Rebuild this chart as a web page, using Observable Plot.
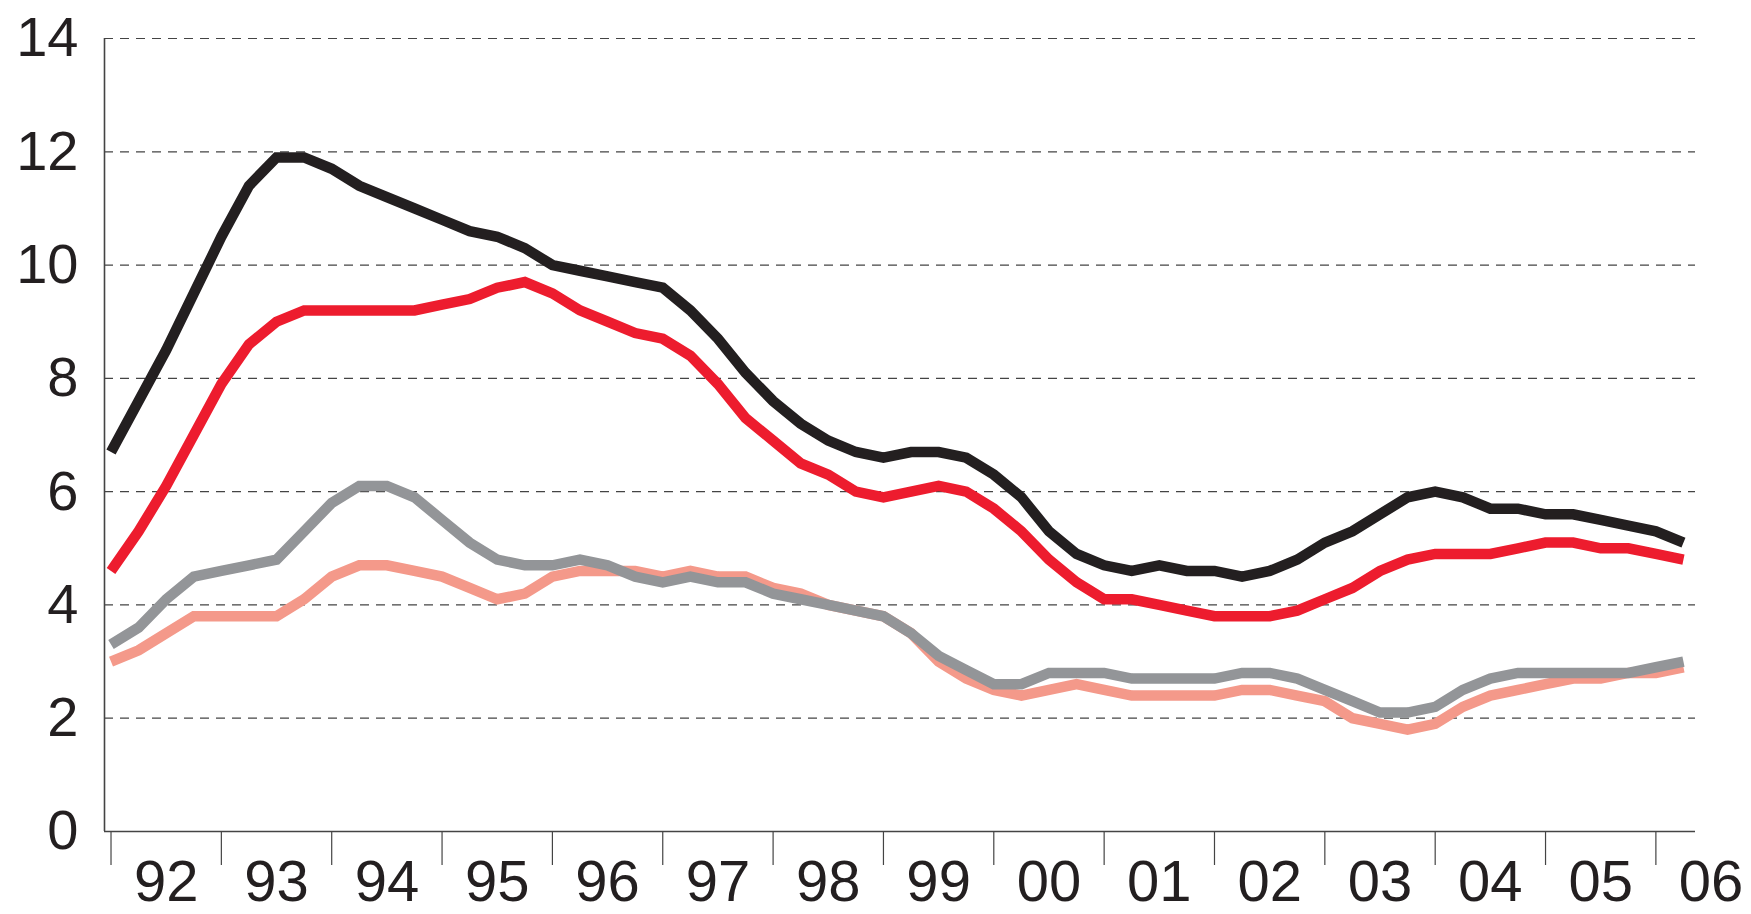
<!DOCTYPE html>
<html>
<head>
<meta charset="utf-8">
<script src="https://cdn.jsdelivr.net/npm/d3@7"></script>
<script src="https://cdn.jsdelivr.net/npm/@observablehq/plot@0.6"></script>
<style>
  html, body { margin: 0; padding: 0; background: #fff; }
  #chart svg { display: block; }
</style>
</head>
<body>
<div id="chart"></div>
<script>
// Quarterly observations, 1992 Q1 – 2006 Q2
const firstYear = 1992;
const yearLabels = ["92","93","94","95","96","97","98","99","00","01","02","03","04","05","06"];
const yTicks = [0, 2, 4, 6, 8, 10, 12, 14];
const gridValues = [2, 4, 6, 8, 10, 12, 14];

const seriesBlack = [6.7, 7.6, 8.5, 9.5, 10.5, 11.4, 11.9, 11.9, 11.7, 11.4, 11.2, 11.0, 10.8, 10.6, 10.5, 10.3,
  10.0, 9.9, 9.8, 9.7, 9.6, 9.2, 8.7, 8.1, 7.6, 7.2, 6.9, 6.7, 6.6, 6.7, 6.7, 6.6,
  6.3, 5.9, 5.3, 4.9, 4.7, 4.6, 4.7, 4.6, 4.6, 4.5, 4.6, 4.8, 5.1, 5.3, 5.6, 5.9,
  6.0, 5.9, 5.7, 5.7, 5.6, 5.6, 5.5, 5.4, 5.3, 5.1];
const seriesRed = [4.6, 5.3, 6.1, 7.0, 7.9, 8.6, 9.0, 9.2, 9.2, 9.2, 9.2, 9.2, 9.3, 9.4, 9.6, 9.7,
  9.5, 9.2, 9.0, 8.8, 8.7, 8.4, 7.9, 7.3, 6.9, 6.5, 6.3, 6.0, 5.9, 6.0, 6.1, 6.0,
  5.7, 5.3, 4.8, 4.4, 4.1, 4.1, 4.0, 3.9, 3.8, 3.8, 3.8, 3.9, 4.1, 4.3, 4.6, 4.8,
  4.9, 4.9, 4.9, 5.0, 5.1, 5.1, 5.0, 5.0, 4.9, 4.8];
const seriesGray = [3.3, 3.6, 4.1, 4.5, 4.6, 4.7, 4.8, 5.3, 5.8, 6.1, 6.1, 5.9, 5.5, 5.1, 4.8, 4.7,
  4.7, 4.8, 4.7, 4.5, 4.4, 4.5, 4.4, 4.4, 4.2, 4.1, 4.0, 3.9, 3.8, 3.5, 3.1, 2.85,
  2.6, 2.6, 2.8, 2.8, 2.8, 2.7, 2.7, 2.7, 2.7, 2.8, 2.8, 2.7, 2.5, 2.3, 2.1, 2.1,
  2.2, 2.5, 2.7, 2.8, 2.8, 2.8, 2.8, 2.8, 2.9, 3.0];
const seriesSalmon = [3.0, 3.2, 3.5, 3.8, 3.8, 3.8, 3.8, 4.1, 4.5, 4.7, 4.7, 4.6, 4.5, 4.3, 4.1, 4.2,
  4.5, 4.6, 4.6, 4.6, 4.5, 4.6, 4.5, 4.5, 4.3, 4.2, 4.0, 3.9, 3.8, 3.5, 3.0, 2.7,
  2.5, 2.4, 2.5, 2.6, 2.5, 2.4, 2.4, 2.4, 2.4, 2.5, 2.5, 2.4, 2.3, 2.0, 1.9, 1.8,
  1.9, 2.2, 2.4, 2.5, 2.6, 2.7, 2.7, 2.8, 2.8, 2.9];

const seriesList = [
  {name: "salmon", values: seriesSalmon, color: "#f4998a"},
  {name: "gray", values: seriesGray, color: "#939598"},
  {name: "red", values: seriesRed, color: "#ed1c2e"},
  {name: "black", values: seriesBlack, color: "#231f20"}
];

const xDomain = [1991.941, 2006.359];
const yearStarts = yearLabels.map((_, i) => firstYear + i);

const lineMarks = seriesList.map(s =>
  Plot.line(s.values.map((v, i) => ({t: firstYear + i / 4, v})), {
    x: "t", y: "v", stroke: s.color, strokeWidth: 10.5,
    strokeLinejoin: "miter", strokeLinecap: "butt", strokeMiterlimit: 4
  })
);

const chart = Plot.plot({
  width: 1751,
  height: 914,
  marginTop: 38,
  marginBottom: 83,
  marginLeft: 104,
  marginRight: 56,
  style: {background: "#fff", fontFamily: "'Liberation Sans', Arial, sans-serif"},
  x: {domain: xDomain, axis: null},
  y: {domain: [0, 14], axis: null},
  marks: [
    Plot.ruleY(gridValues, {stroke: "#444", strokeWidth: 1.2, strokeDasharray: "9,7"}),
    Plot.axisX({ticks: yearStarts, tickSize: 34, tickFormat: () => "", label: null, stroke: "#444", strokeWidth: 1.2, anchor: "bottom"}),
    Plot.ruleY([0], {stroke: "#444", strokeWidth: 1.6}),
    Plot.ruleX([xDomain[0]], {y1: 0, y2: 14, stroke: "#444", strokeWidth: 1.6}),
    ...lineMarks,
    Plot.text(yTicks, {
      x: xDomain[0], y: d => d, text: d => String(d), dx: -26,
      textAnchor: "end", fontSize: 56, fill: "#231f20",
      fontFamily: "'Liberation Sans', Arial, sans-serif"
    }),
    Plot.text(yearLabels, {
      x: (d, i) => firstYear + i + 0.5, y: 0, text: d => d, dy: 51,
      textAnchor: "middle", fontSize: 58, fill: "#231f20",
      fontFamily: "'Liberation Sans Narrow', 'Arial Narrow', 'Liberation Sans', sans-serif"
    })
  ]
});

document.getElementById("chart").appendChild(chart);
</script>
</body>
</html>
